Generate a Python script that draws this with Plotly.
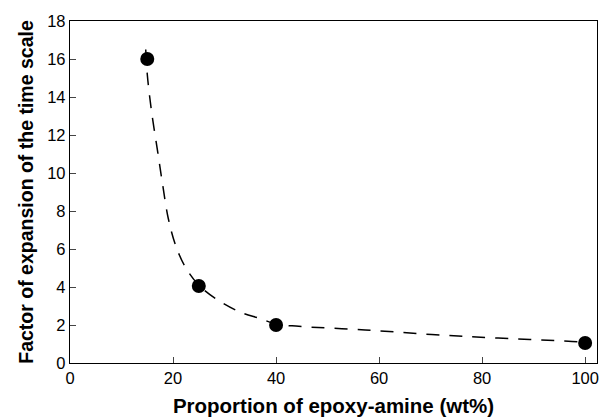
import plotly.graph_objects as go

# Measured data points
x_pts = [15, 25, 40, 100]
y_pts = [16.0, 4.05, 2.0, 1.05]

# Dashed guide curve
x_curve = [14.7, 15.0, 15.8, 17.07, 17.9, 19.07, 20.48, 22.35, 25.0, 28.47, 32.85, 37.0, 40.0, 44.4, 57.3, 70.2, 83.1, 98.6, 100]
y_curve = [16.5, 15.2, 13.3, 11.03, 9.54, 7.62, 6.21, 5.07, 4.1, 3.35, 2.7, 2.33, 2.05, 1.93, 1.74, 1.5, 1.31, 1.12, 1.08]

x_ticks = [0, 20, 40, 60, 80, 100]
y_ticks = [0, 2, 4, 6, 8, 10, 12, 14, 16, 18]

fig = go.Figure()
fig.add_trace(go.Scatter(x=x_curve, y=y_curve, mode="lines",
                         line=dict(color="black", width=1.5, dash="13px,10px", shape="spline", smoothing=1.0),
                         hoverinfo="skip", showlegend=False))
fig.add_trace(go.Scatter(x=x_pts, y=y_pts, mode="markers",
                         marker=dict(color="black", size=14), showlegend=False))

font = "Liberation Sans, Arial, sans-serif"
fig.update_layout(
    width=603, height=420,
    margin=dict(l=70, r=4, t=21, b=57),
    paper_bgcolor="white", plot_bgcolor="white",
    font=dict(family=font, color="black", size=16.5),
)
fig.update_xaxes(range=[0, 102.3], tickvals=x_ticks, ticks="inside", ticklen=6, tickwidth=1.3,
                 showline=True, linecolor="black", linewidth=1.3, mirror=True, showgrid=False, zeroline=False,
                 tickfont=dict(size=16.5),
                 title=dict(text="<b>Proportion of epoxy-amine (wt%)</b>", font=dict(size=20.5), standoff=12))
fig.update_yaxes(range=[0, 18], tickvals=y_ticks, ticks="inside", ticklen=6, tickwidth=1.3,
                 showline=True, linecolor="black", linewidth=1.3, mirror=True, showgrid=False, zeroline=False,
                 tickfont=dict(size=16.5),
                 title=dict(text="<b>Factor of expansion of the time scale</b>", font=dict(size=19.5), standoff=8))

fig.write_html("out.html")
